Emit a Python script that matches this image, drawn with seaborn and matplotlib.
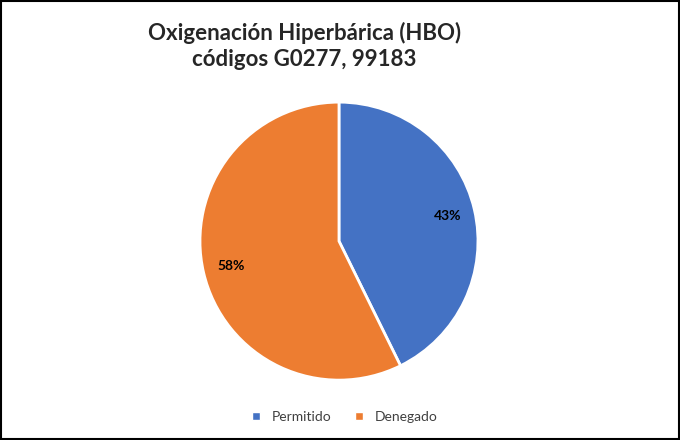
import matplotlib
matplotlib.use("Agg")
import matplotlib.pyplot as plt
import seaborn as sns
import numpy as np
from matplotlib.patches import Rectangle
from matplotlib.lines import Line2D

categories = ["Permitido", "Denegado"]
values = [42.7, 57.3]
pct_labels = ["43%", "58%"]
colors = ["#4472C4", "#ED7D31"]

sns.set_theme(style="white")
plt.rcParams['font.family'] = ['Lato', 'DejaVu Sans']

fig = plt.figure(figsize=(6.8, 4.4), dpi=100)
ax = fig.add_axes([0.4985 - 0.2044, 0.452 - 0.316, 0.4088, 0.632])
wedges, _ = ax.pie(values, colors=colors, startangle=90, counterclock=False,
                   wedgeprops=dict(edgecolor="white", linewidth=2))
for w, lab in zip(wedges, pct_labels):
    ang = np.deg2rad((w.theta1 + w.theta2) / 2)
    ax.text(0.8 * np.cos(ang), 0.8 * np.sin(ang), lab, ha="center", va="center",
            fontsize=10, fontweight="bold", color="black")
ax.set_aspect("equal")
ax.set_xlim(-1.0, 1.0)
ax.set_ylim(-1.0, 1.0)

fig.text(0.448, 0.895, "Oxigenación Hiperbárica (HBO)\ncódigos G0277, 99183",
         ha="center", va="center", fontsize=16, fontweight="bold", linespacing=1.3)

handles = [Line2D([0], [0], marker="s", color="w", markerfacecolor=c, markersize=6, label=l)
           for c, l in zip(colors, categories)]
fig.legend(handles=handles, loc="center", bbox_to_anchor=(0.5, 0.052), ncol=2,
           frameon=False, fontsize=10, handletextpad=0.1, columnspacing=1.0,
           labelcolor="#404040")

fig.patches.append(Rectangle((0.002, 0.002), 0.996, 0.995, transform=fig.transFigure,
                             fill=False, edgecolor="black", linewidth=1.5))
fig.savefig("out.png", dpi=100)
